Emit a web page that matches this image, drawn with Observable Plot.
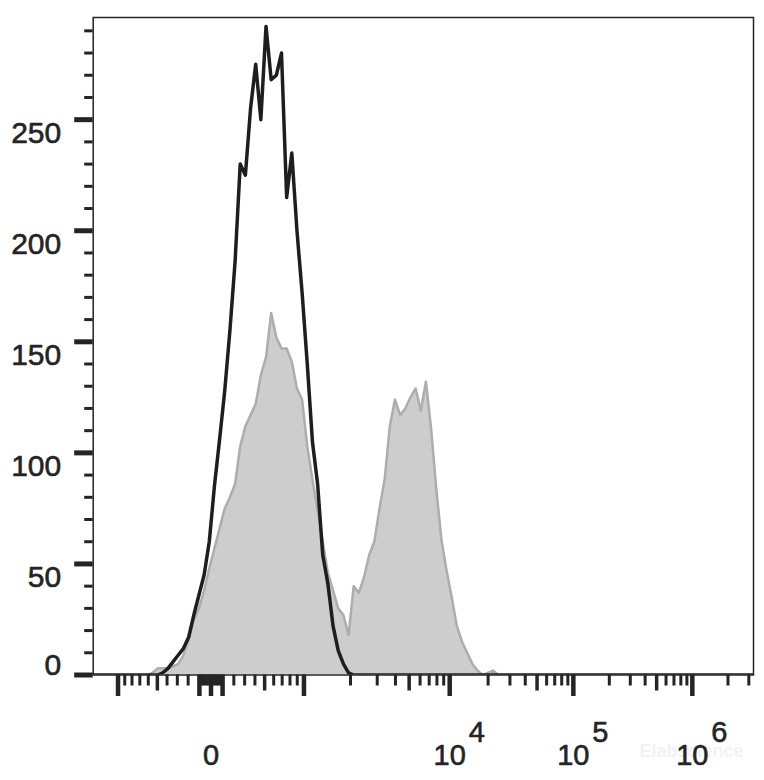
<!DOCTYPE html>
<html>
<head>
<meta charset="utf-8">
<script src="https://cdn.jsdelivr.net/npm/d3@7"></script>
<script src="https://cdn.jsdelivr.net/npm/@observablehq/plot@0.6"></script>
<style>
  body { margin: 0; background: #fff; }
  #chart svg { display: block; }
</style>
</head>
<body>
<div id="chart"></div>
<script>
// ---- Histogram data: 128 bins (2 channels each) on a 256-channel biexponential display ----
const channelCount = 256;
const binCount = 128;
const firstBin = 10; // index of the first listed bin; all other bins are 0

// Black outline histogram (single population)
const blackCounts = [
  0, 0, 0, 1, 3, 6, 9, 12, 17, 27,
  36, 45, 60, 85, 106, 128, 155, 186, 230, 225,
  255, 275, 250, 292, 268, 270, 280, 215, 235, 200,
  172, 140, 105, 86, 54, 41, 22, 11, 5, 1,
  0
];

// Grey filled histogram (two populations)
const grayCounts = [
  0, 1, 3, 3, 3, 4, 5, 9, 16, 25,
  30, 38, 48, 57, 66, 75, 80, 86, 103, 112,
  117, 122, 135, 143, 163, 152, 147, 147, 141, 129,
  124, 103, 88, 74, 60, 46, 38, 30, 27, 18,
  40, 37, 44, 54, 60, 75, 88, 112, 124, 117,
  120, 125, 129, 119, 132, 111, 84, 61, 47, 35,
  22, 15, 10, 5, 2, 0, 1, 2, 0
];

// ---- Axis tick values ----
const xMajorTicks = [-1000, -100, 0, 100, 1000, 1e4, 1e5, 1e6];
const xMediumTicks = [-500, 500, 5e3, 5e4, 5e5];
const xMinorTicks = [
  -900, -800, -700, -600, -400, -300, -200, -80, -60, -40, -20,
  20, 40, 60, 80, 200, 300, 400, 600, 700, 800, 900,
  2e3, 3e3, 4e3, 6e3, 7e3, 8e3, 9e3,
  2e4, 3e4, 4e4, 6e4, 7e4, 8e4, 9e4,
  2e5, 3e5, 4e5, 6e5, 7e5, 8e5, 9e5,
  2e6, 3e6
];
const xLabelValues = [0, 1e4, 1e5, 1e6];
const xLabelBases = ["0", "10", "10", "10"];
const xLabelExps = ["", "4", "5", "6"];

const yMajorTicks = [0, 50, 100, 150, 200, 250];
const yMinorTicks = [10, 20, 30, 40, 60, 70, 80, 90, 110, 120, 130, 140,
  160, 170, 180, 190, 210, 220, 230, 240, 260, 270, 280, 290];
const yMax = 296;

// ---- Biexponential display transform (value <-> display channel) ----
const biex = {zero: 45.67, A: 85.2, D: 45.865, C: 2537, F: 329.5};
function biexValue(ch) {
  const w = ch - biex.zero, s = Math.sign(w), a = Math.abs(w);
  return s * (biex.A * (Math.pow(10, a / biex.D) - 1) + biex.C * (1 - Math.pow(10, -a / biex.F)));
}
function toChannel(v) {
  let lo = -40, hi = 320;
  for (let k = 0; k < 60; k++) {
    const mid = (lo + hi) / 2;
    if (biexValue(mid) < v) lo = mid; else hi = mid;
  }
  return (lo + hi) / 2;
}

// ---- Build table ----
const rows = [];
for (let i = -1; i <= binCount; i++) {
  const k = i - firstBin;
  rows.push({
    ch: 2 * i + 1,
    black: (k >= 0 && k < blackCounts.length) ? blackCounts[k] : 0,
    gray: (k >= 0 && k < grayCounts.length) ? grayCounts[k] : 0
  });
}
const xLabels = xLabelValues.map((v, i) => ({v, base: xLabelBases[i], exp: xLabelExps[i]}));

const font = "'Liberation Sans', Arial, Helvetica, sans-serif";
const ink = "#242424";
const labelStyle = {fontSize: 30, fontFamily: font, fill: ink, stroke: ink, strokeWidth: 0.6};

const chart = Plot.plot({
  width: 764,
  height: 780,
  marginLeft: 92.7,
  marginRight: 11,
  marginTop: 17,
  marginBottom: 105.5,
  style: {background: "#ffffff", fontFamily: font, overflow: "visible"},
  x: {type: "linear", domain: [0, channelCount], label: null},
  y: {type: "linear", domain: [0, yMax], label: null},
  marks: [
    Plot.text(["Elabscience"], {frameAnchor: "bottom-right", textAnchor: "middle", lineAnchor: "middle",
      dx: -62, dy: 76, fontSize: 18, fontWeight: "bold", fill: "#f2f2f2", fontFamily: font}),
    Plot.areaY(rows, {x: "ch", y: "gray", fill: "#cdcdcd", curve: "linear", clip: true}),
    Plot.lineY(rows, {x: "ch", y: "gray", stroke: "#adadad", strokeWidth: 2.5, curve: "linear",
      strokeLinejoin: "round", clip: true}),
    Plot.lineY(rows, {x: "ch", y: "black", stroke: "#1e1e1e", strokeWidth: 3.5, curve: "linear",
      strokeLinejoin: "round", clip: true}),
    Plot.frame({stroke: ink, strokeWidth: 1.5}),
    // x ticks
    Plot.axisX({ticks: xMinorTicks.map(toChannel), tickSize: 11, strokeWidth: 3, stroke: ink, tickFormat: () => "", label: null}),
    Plot.axisX({ticks: xMediumTicks.map(toChannel), tickSize: 16, strokeWidth: 3.5, stroke: ink, tickFormat: () => "", label: null}),
    Plot.axisX({ticks: xMajorTicks.map(toChannel), tickSize: 21.5, strokeWidth: 4.5, stroke: ink, tickFormat: () => "", label: null}),
    // y ticks
    Plot.axisY({ticks: yMinorTicks, tickSize: 8.5, strokeWidth: 3, stroke: ink, tickFormat: () => "", label: null}),
    Plot.axisY({ticks: yMajorTicks, tickSize: 18.5, strokeWidth: 5, stroke: ink, tickFormat: () => "", label: null}),
    // y labels
    Plot.text(yMajorTicks.filter(d => d > 0), {y: d => d, text: d => String(d), frameAnchor: "left",
      textAnchor: "end", lineAnchor: "top", dx: -32, dy: 2, ...labelStyle}),
    Plot.text(yMajorTicks.filter(d => d === 0), {y: d => d, text: d => String(d), frameAnchor: "left",
      textAnchor: "end", lineAnchor: "bottom", dx: -32, dy: 0, ...labelStyle}),
    // x labels
    Plot.text(xLabels, {x: d => toChannel(d.v), text: "base", frameAnchor: "bottom", textAnchor: "middle",
      lineAnchor: "bottom", dy: 90, ...labelStyle, fontSize: 29}),
    Plot.text(xLabels.filter(d => d.exp), {x: d => toChannel(d.v), text: "exp", frameAnchor: "bottom",
      textAnchor: "start", lineAnchor: "bottom", dx: 19, dy: 67, ...labelStyle, fontSize: 29})
  ]
});
document.getElementById("chart").appendChild(chart);
</script>
</body>
</html>
